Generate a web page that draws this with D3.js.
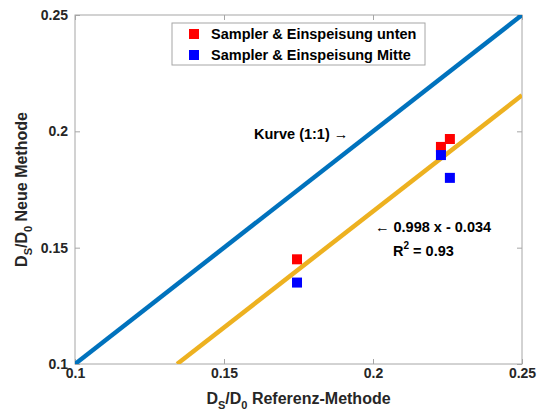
<!DOCTYPE html>
<html>
<head>
<meta charset="utf-8">
<script src="https://cdn.jsdelivr.net/npm/d3@7"></script>
<style>
  body { margin: 0; background: #fff; }
  text { font-family: "Liberation Sans", Arial, sans-serif; font-weight: bold; }
</style>
</head>
<body>
<svg id="chart" width="540" height="412"></svg>
<script>
// data
const xTicks = [0.1, 0.15, 0.2, 0.25];
const yTicks = [0.1, 0.15, 0.2, 0.25];
const redX = [0.1745, 0.2228, 0.2258];
const redY = [0.145, 0.1933, 0.1967];
const blueX = [0.1745, 0.2228, 0.2258];
const blueY = [0.135, 0.1898, 0.18];
const fitSlope = 0.998;
const fitIntercept = -0.034;
const legendLabels = ['Sampler & Einspeisung unten', 'Sampler & Einspeisung Mitte'];

const margin = {left: 75, right: 18, top: 15, bottom: 48};
const W = 540, H = 412;
const svg = d3.select('#chart');

const x = d3.scaleLinear().domain([0.1, 0.25]).range([margin.left, W - margin.right]);
const y = d3.scaleLinear().domain([0.1, 0.25]).range([H - margin.bottom, margin.top]);

const axisColor = '#262626';

svg.append('defs').append('clipPath').attr('id', 'clip')
  .append('rect')
  .attr('x', x(0.1)).attr('y', y(0.25))
  .attr('width', x(0.25) - x(0.1)).attr('height', y(0.1) - y(0.25));

// box
svg.append('rect')
  .attr('x', x(0.1)).attr('y', y(0.25))
  .attr('width', x(0.25) - x(0.1)).attr('height', y(0.1) - y(0.25))
  .attr('fill', 'none').attr('stroke', '#a6a6a6').attr('stroke-width', 1);

const styleAxis = g => {
  g.select('.domain').remove();
  g.selectAll('line').attr('stroke', '#a6a6a6');
  g.selectAll('text').attr('fill', axisColor).style('font-size', '14px');
};

svg.append('g').attr('transform', `translate(0,${y(0.1)})`)
  .call(d3.axisBottom(x).tickValues(xTicks).tickFormat(d3.format('')).tickSize(-5).tickPadding(4))
  .call(styleAxis);
svg.append('g').attr('transform', `translate(0,${y(0.25)})`)
  .call(d3.axisTop(x).tickValues(xTicks).tickFormat('').tickSize(-5))
  .call(styleAxis);
svg.append('g').attr('transform', `translate(${x(0.1)},0)`)
  .call(d3.axisLeft(y).tickValues(yTicks).tickFormat(d3.format('')).tickSize(-5).tickPadding(7))
  .call(styleAxis);
svg.append('g').attr('transform', `translate(${x(0.25)},0)`)
  .call(d3.axisRight(y).tickValues(yTicks).tickFormat('').tickSize(-5))
  .call(styleAxis);

const plot = svg.append('g').attr('clip-path', 'url(#clip)');

// 1:1 line
const line = d3.line().x(d => x(d[0])).y(d => y(d[1]));
plot.append('path')
  .attr('d', line([[0.1, 0.1], [0.25, 0.25]]))
  .attr('stroke', '#0072BD').attr('stroke-width', 4.5).attr('fill', 'none');

// fit line
const fitStart = (0.1 - fitIntercept) / fitSlope;
plot.append('path')
  .attr('d', line([[fitStart, 0.1], [0.25, fitSlope * 0.25 + fitIntercept]]))
  .attr('stroke', '#EDB120').attr('stroke-width', 4.5).attr('fill', 'none');

const sq = 10;
const drawSquares = (xs, ys, color) => {
  plot.selectAll(null).data(d3.zip(xs, ys)).enter().append('rect')
    .attr('x', d => x(d[0]) - sq / 2).attr('y', d => y(d[1]) - sq / 2)
    .attr('width', sq).attr('height', sq)
    .attr('fill', color);
};
drawSquares(redX, redY, '#FF0000');
drawSquares(blueX, blueY, '#0000FF');

// annotations
svg.append('text').attr('x', 254).attr('y', 139)
  .style('font-size', '14.5px').attr('fill', '#000')
  .text('Kurve (1:1) →');
svg.append('text').attr('x', 375).attr('y', 232)
  .style('font-size', '14.5px').attr('fill', '#000')
  .text('← 0.998 x - 0.034');
const r2 = svg.append('text').attr('x', 393).attr('y', 256)
  .style('font-size', '14.5px').attr('fill', '#000');
r2.append('tspan').text('R');
r2.append('tspan').attr('dy', -7).style('font-size', '10px').text('2');
r2.append('tspan').attr('dy', 7).text(' = 0.93');

// legend
const lg = svg.append('g').attr('transform', 'translate(172,23)');
lg.append('rect').attr('width', 253).attr('height', 42)
  .attr('fill', '#fff').attr('stroke', '#a6a6a6');
const legendColors = ['#FF0000', '#0000FF'];
legendLabels.forEach((lab, i) => {
  lg.append('rect').attr('x', 17).attr('y', 6 + i * 21).attr('width', 10).attr('height', 10)
    .attr('fill', legendColors[i]);
  lg.append('text').attr('x', 39).attr('y', 16 + i * 21)
    .style('font-size', '14.5px').attr('fill', '#000').text(lab);
});

// axis labels
const xl = svg.append('text').attr('x', (x(0.1) + x(0.25)) / 2).attr('y', 404)
  .attr('text-anchor', 'middle').style('font-size', '16px').attr('fill', axisColor);
xl.append('tspan').text('D');
xl.append('tspan').attr('dy', 5).style('font-size', '11px').text('S');
xl.append('tspan').attr('dy', -5).text('/D');
xl.append('tspan').attr('dy', 5).style('font-size', '11px').text('0');
xl.append('tspan').attr('dy', -5).text(' Referenz-Methode');

const yl = svg.append('text').attr('transform', `translate(27,${(y(0.1) + y(0.25)) / 2}) rotate(-90)`)
  .attr('text-anchor', 'middle').style('font-size', '16px').attr('fill', axisColor);
yl.append('tspan').text('D');
yl.append('tspan').attr('dy', 5).style('font-size', '11px').text('S');
yl.append('tspan').attr('dy', -5).text('/D');
yl.append('tspan').attr('dy', 5).style('font-size', '11px').text('0');
yl.append('tspan').attr('dy', -5).text(' Neue Methode');
</script>
</body>
</html>
